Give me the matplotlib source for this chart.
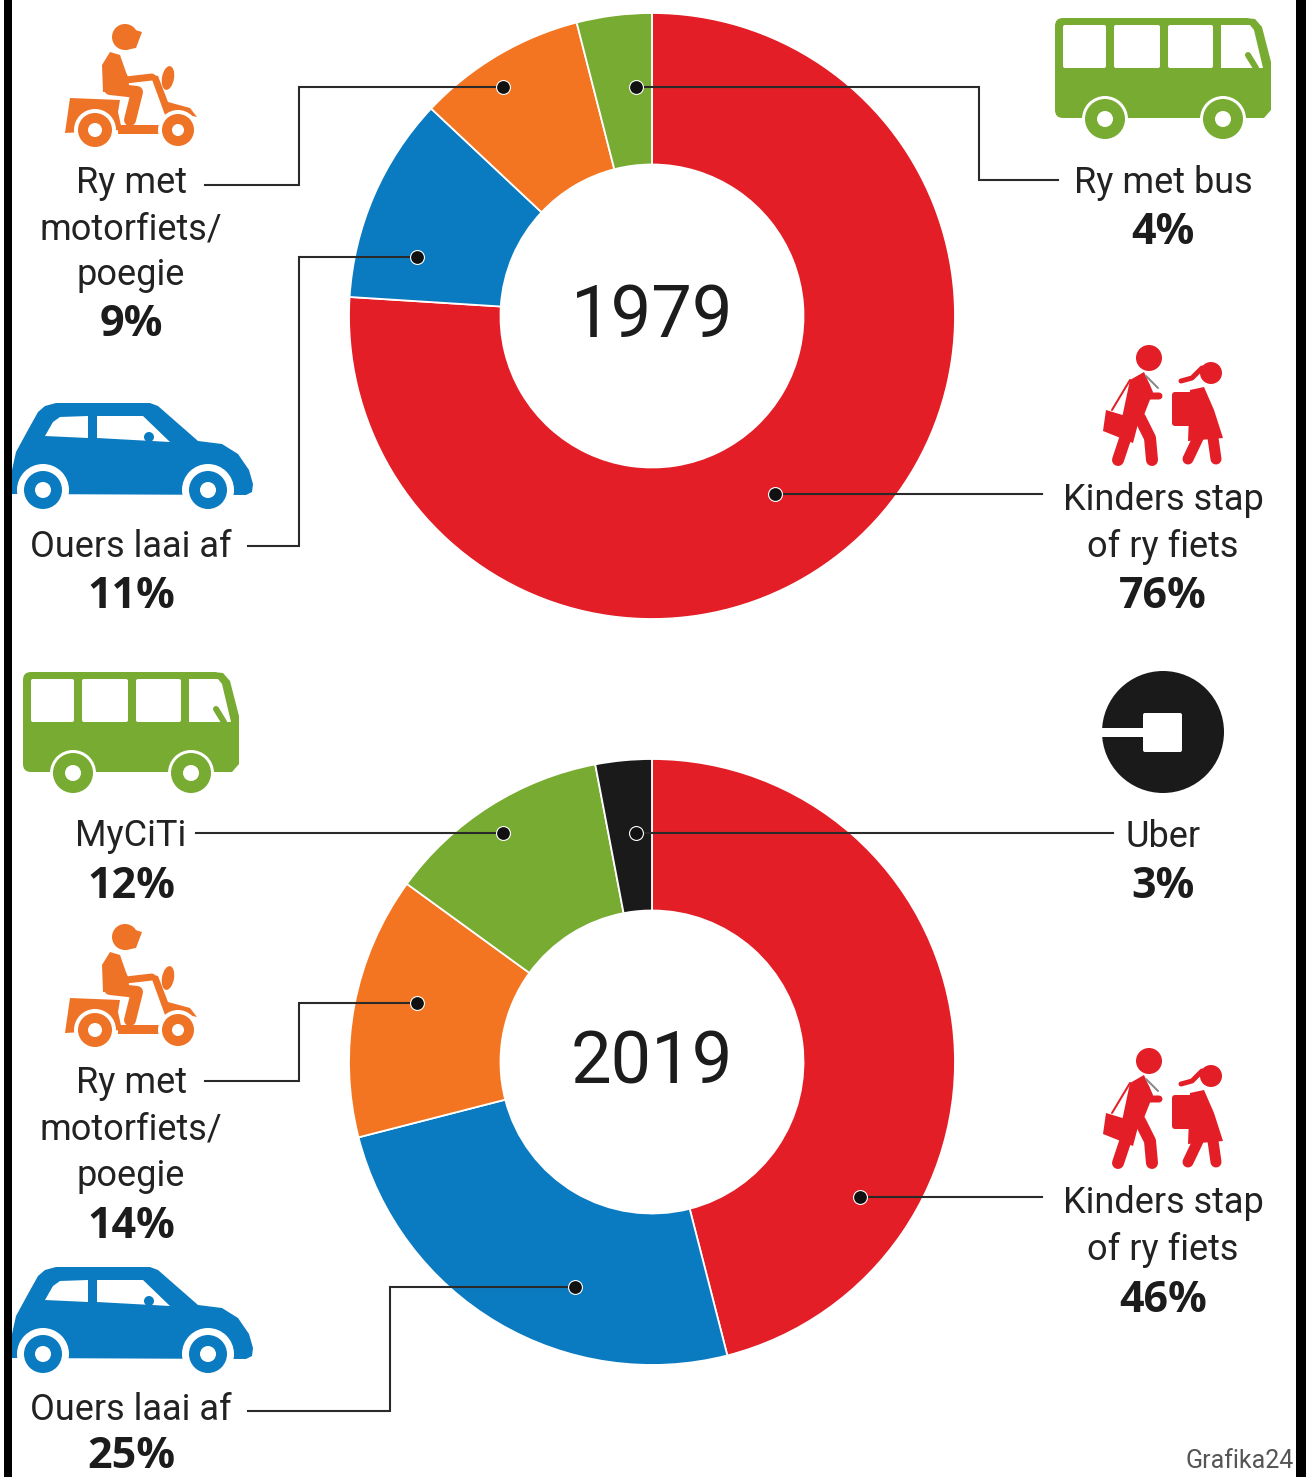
import matplotlib
matplotlib.use('Agg')
import matplotlib.pyplot as plt
from matplotlib.patches import Circle, Polygon, Rectangle, FancyBboxPatch, Ellipse

W, H = 1306, 1477

# values
years = ['1979', '2019']
values_1979 = [76, 11, 9, 4]
colors_1979 = ['#E31E26', '#0B7BC1', '#F47521', '#78AB31']
values_2019 = [46, 25, 14, 12, 3]
colors_2019 = ['#E31E26', '#0B7BC1', '#F47521', '#78AB31', '#1A1A1A']

RED, BLUE, ORANGE, GREEN, BLACK = colors_2019

plt.rcParams['font.family'] = ['Roboto', 'DejaVu Sans']

fig = plt.figure(figsize=(W / 100, H / 100), dpi=100, facecolor='white')


def donut(vals, cols, cx, cy, year):
    r = 303
    ax = fig.add_axes([(cx - r) / W, 1 - (cy + r) / H, 2 * r / W, 2 * r / H])
    ax.pie(vals, colors=cols, startangle=90, counterclock=False, radius=1,
           wedgeprops=dict(width=0.5, edgecolor='white', linewidth=1.3))
    ax.set_xlim(-1, 1)
    ax.set_ylim(-1, 1)
    ax.text(0, -0.005, year, ha='center', va='center', fontsize=52, color='#1c1c1c')


donut(values_1979, colors_1979, 652, 316, years[0])
donut(values_2019, colors_2019, 652, 1062, years[1])

# everything else sits on a pixel overlay
ov = fig.add_axes([0, 0, 1, 1], zorder=5)
ov.set_xlim(0, W)
ov.set_ylim(H, 0)
ov.axis('off')
ov.patch.set_alpha(0)

ov.add_patch(Rectangle((4, 0), 8, H, color='black', lw=0))
ov.add_patch(Rectangle((1296, 0), 10, H, color='black', lw=0))


def px(v):
    return v * 0.72


def thick(xs, ys, w, c, dy=0):
    ov.plot(xs, [y + dy for y in ys], color=c, lw=px(w),
            solid_capstyle='round', solid_joinstyle='round')


def wheel(x, y, r, hub, c, gap=4):
    ov.add_patch(Circle((x, y), r + gap, color='white', lw=0))
    ov.add_patch(Circle((x, y), r, color=c, lw=0))
    ov.add_patch(Circle((x, y), hub, color='white', lw=0))


def poly(pts, dx, dy, c):
    ov.add_patch(Polygon([(x + dx, y + dy) for x, y in pts], closed=True, color=c, lw=0))


def car(dy):
    poly([(12, 494), (12, 470), (16, 452), (28, 430), (38, 412), (45, 406), (56, 403), (150, 403),
          (158, 406), (198, 441), (222, 444), (238, 454), (249, 470), (253, 484), (252, 492),
          (246, 495)], 0, dy, BLUE)
    poly([(45, 436), (53, 422), (60, 417), (88, 416), (88, 438)], 0, dy, 'white')
    poly([(97, 416), (143, 416), (170, 442), (97, 438)], 0, dy, 'white')
    ov.add_patch(Circle((149, 437 + dy), 5, color=BLUE, lw=0))
    wheel(43, 490 + dy, 19, 8, BLUE, gap=7)
    wheel(208, 490 + dy, 19, 8, BLUE, gap=7)


def bus(dx, dy):
    ov.add_patch(FancyBboxPatch((1055 + dx + 8, 18 + dy + 8), 182, 84,
                                boxstyle='round,pad=8', color=GREEN, lw=0))
    poly([(1245, 18), (1255, 19), (1262, 27), (1271, 62), (1271, 110), (1264, 118),
          (1245, 118)], dx, dy, GREEN)
    for x0, x1 in [(1063, 1106), (1114, 1160), (1168, 1213)]:
        ov.add_patch(FancyBboxPatch((x0 + dx + 2, 27 + dy), x1 - x0 - 4, 39,
                                    boxstyle='round,pad=2', color='white', lw=0))
    poly([(1221, 25), (1250, 25), (1254, 30), (1263, 68), (1221, 68)], dx, dy, 'white')
    thick([1248 + dx, 1256 + dx], [55 + dy, 68 + dy], 6, GREEN)
    wheel(1105 + dx, 119 + dy, 20, 8, GREEN, gap=3)
    wheel(1223 + dx, 119 + dy, 20, 8, GREEN, gap=3)


def scooter(dy):
    c = '#EE7326'
    ov.add_patch(Circle((125, 37 + dy), 13, color=c, lw=0))
    poly([(125, 27), (142, 32), (136, 48), (125, 50)], 0, dy, c)
    poly([(103, 92), (102, 65), (110, 52), (120, 55), (128, 78), (130, 92)], 0, dy, c)
    thick([114, 126, 152], [60, 80, 77], 7, c, dy)
    thick([110, 137, 130], [89, 92, 120], 12, c, dy)
    poly([(150, 74), (158, 76), (168, 102), (190, 108), (197, 117), (175, 112), (165, 115)], 0, dy, c)
    ov.add_patch(Ellipse((168, 78 + dy), 12, 24, angle=10, color=c, lw=0))
    poly([(70, 98), (120, 100), (118, 112), (122, 130), (65, 133)], 0, dy, c)
    ov.add_patch(Rectangle((118, 125 + dy), 46, 9, color=c, lw=0))
    wheel(95, 130 + dy, 17, 7, c)
    wheel(178, 130 + dy, 16, 6, c)


def kids(dy):
    c = RED
    ov.add_patch(Circle((1149, 358 + dy), 13, color=c, lw=0))
    poly([(1130, 380), (1144, 372), (1153, 392), (1142, 420), (1122, 418)], 0, dy, c)
    thick([1146, 1150, 1159], [385, 396, 396], 7, c, dy)
    thick([1132, 1118], [418, 460], 12, c, dy)
    thick([1140, 1150, 1152], [418, 438, 460], 12, c, dy)
    thick([1112, 1130], [410, 380], 2, c, dy)
    thick([1146, 1158], [376, 388], 2, '#888888', dy)
    poly([(1106, 410), (1139, 420), (1133, 443), (1103, 431)], 0, dy, c)
    ov.add_patch(Circle((1211, 373 + dy), 11, color=c, lw=0))
    thick([1181, 1192, 1202], [381, 378, 368], 5, c, dy)
    ov.add_patch(FancyBboxPatch((1175, 395 + dy), 14, 28, boxstyle='round,pad=3', color=c, lw=0))
    poly([(1190, 390), (1204, 387), (1214, 410), (1223, 438), (1188, 441)], 0, dy, c)
    thick([1198, 1188], [438, 459], 11, c, dy)
    thick([1213, 1216], [438, 459], 11, c, dy)


def uber():
    ov.add_patch(Circle((1163, 732), 61, color=BLACK, lw=0))
    ov.add_patch(Rectangle((1100, 728), 50, 9, color='white', lw=0))
    ov.add_patch(FancyBboxPatch((1145, 715), 35, 35, boxstyle='round,pad=2', color='white', lw=0))


scooter(0)
scooter(900)
car(0)
car(864)
bus(0, 0)
bus(-1032, 654)
kids(0)
kids(703)
uber()

# labels: text, x, y
left_x, right_x = 131, 1163
plain = [('Ry met', left_x, 183), ('motorfiets/', left_x, 229), ('poegie', left_x, 275),
         ('Ouers laai af', left_x, 547), ('Ry met bus', right_x, 183),
         ('Kinders stap', right_x, 500), ('of ry fiets', right_x, 547),
         ('MyCiTi', left_x, 836), ('Ry met', left_x, 1083), ('motorfiets/', left_x, 1129),
         ('poegie', left_x, 1176), ('Ouers laai af', left_x, 1410), ('Uber', right_x, 837),
         ('Kinders stap', right_x, 1203), ('of ry fiets', right_x, 1250)]
bold = [('9%', left_x, 325), ('11%', left_x, 597), ('4%', right_x, 233), ('76%', right_x, 597),
        ('12%', left_x, 887), ('14%', left_x, 1226), ('25%', left_x, 1457), ('3%', right_x, 887),
        ('46%', right_x, 1300)]

for t, x, y in plain:
    ov.text(x, y, t, ha='center', va='center', fontsize=26, color='#222222')
for t, x, y in bold:
    ov.text(x, y, t, ha='center', va='center', fontsize=31, fontweight='bold', color='#1c1c1c',
            family=['Open Sans', 'Roboto'])
ov.text(1294, 1461, 'Grafika24', ha='right', va='center', fontsize=18, color='#555555')

# leader lines
leaders = [([503, 299, 299, 205], [87, 87, 185, 185]),
           ([417, 299, 299, 248], [257, 257, 546, 546]),
           ([636, 979, 979, 1058], [87, 87, 180, 180]),
           ([775, 1042], [494, 494]),
           ([503, 196], [833, 833]),
           ([636, 1113], [833, 833]),
           ([417, 299, 299, 205], [1003, 1003, 1081, 1081]),
           ([575, 390, 390, 248], [1287, 1287, 1411, 1411]),
           ([860, 1042], [1197, 1197])]
for xs, ys in leaders:
    ov.plot(xs, ys, color='#2a2a2a', lw=1.5, solid_joinstyle='miter')
    ov.plot(xs[0], ys[0], 'o', ms=10, color='#111111', mec='white', mew=0.8)

fig.savefig('out.png', dpi=100)
